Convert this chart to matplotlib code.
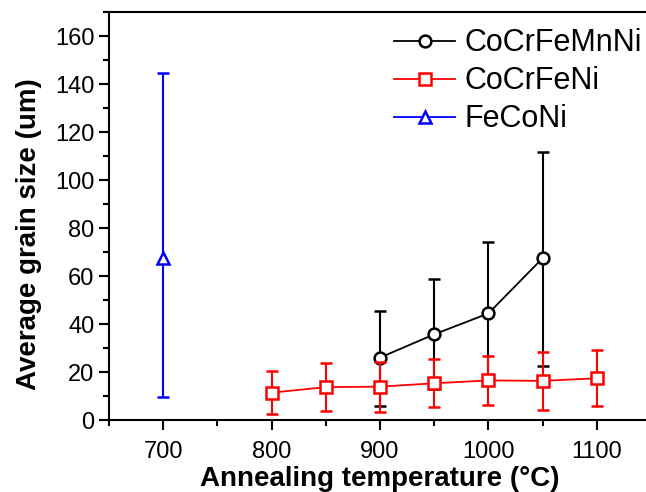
import matplotlib.pyplot as plt
from matplotlib.ticker import MultipleLocator

plt.rcParams['font.family'] = ['Liberation Sans', 'DejaVu Sans']

# CoCrFeMnNi
temp_mn = [900, 950, 1000, 1050]
size_mn = [26.0, 35.7, 44.4, 67.4]
err_lo_mn = [20.0, 22.7, 29.0, 44.8]
err_hi_mn = [19.6, 22.9, 29.6, 44.4]

# CoCrFeNi
temp_cr = [800, 850, 900, 950, 1000, 1050, 1100]
size_cr = [11.4, 13.7, 13.9, 15.3, 16.5, 16.3, 17.4]
err_lo_cr = [9.0, 10.0, 10.4, 10.0, 10.3, 12.0, 11.6]
err_hi_cr = [9.1, 10.1, 10.4, 10.0, 10.2, 12.0, 11.8]

# FeCoNi
temp_fe = [700]
size_fe = [67.4]
err_lo_fe = [58.0]
err_hi_fe = [77.0]

fig = plt.figure(figsize=(6.46, 4.92), dpi=100)
ax = fig.add_axes([0.1687, 0.1463, 0.839, 0.8293])

style = dict(markersize=8.5, markerfacecolor='white', markeredgewidth=1.8, linewidth=1.3,
             elinewidth=1.5, capsize=4.5, capthick=1.5)
ax.errorbar(temp_mn, size_mn, yerr=[err_lo_mn, err_hi_mn], color='black', marker='o',
            label='CoCrFeMnNi', zorder=3, **style)
ax.errorbar(temp_cr, size_cr, yerr=[err_lo_cr, err_hi_cr], color='red', marker='s',
            label='CoCrFeNi', zorder=4, **style)
ax.errorbar(temp_fe, size_fe, yerr=[err_lo_fe, err_hi_fe], color='blue', marker='^',
            label='FeCoNi', zorder=3, **style)

ax.set_xlim(650, 1150)
ax.set_ylim(0, 170)
ax.xaxis.set_major_locator(MultipleLocator(100))
ax.xaxis.set_minor_locator(MultipleLocator(50))
ax.yaxis.set_major_locator(MultipleLocator(20))
ax.yaxis.set_minor_locator(MultipleLocator(10))
ax.tick_params(which='major', direction='out', length=7, width=1.5, labelsize=17)
ax.tick_params(axis='x', which='major', pad=8)
ax.tick_params(which='minor', direction='out', length=4, width=1.5)
ax.tick_params(top=False, right=False)
for s in ax.spines.values():
    s.set_linewidth(1.5)
ax.spines['right'].set_visible(False)

ax.set_xlabel('Annealing temperature (°C)', fontsize=20, fontweight='bold', labelpad=2)
ax.set_ylabel('Average grain size (um)', fontsize=20, fontweight='bold')
ax.yaxis.set_label_coords(-0.124, 0.456)

handles, labels = ax.get_legend_handles_labels()
handles = [h[0] for h in handles]
ax.legend(handles, labels, loc='upper right', bbox_to_anchor=(1.006, 0.99), frameon=False,
          fontsize=22, handlelength=2.0, handletextpad=0.3, labelspacing=0.26,
          borderaxespad=0.0)

fig.savefig('out.png', dpi=100)
